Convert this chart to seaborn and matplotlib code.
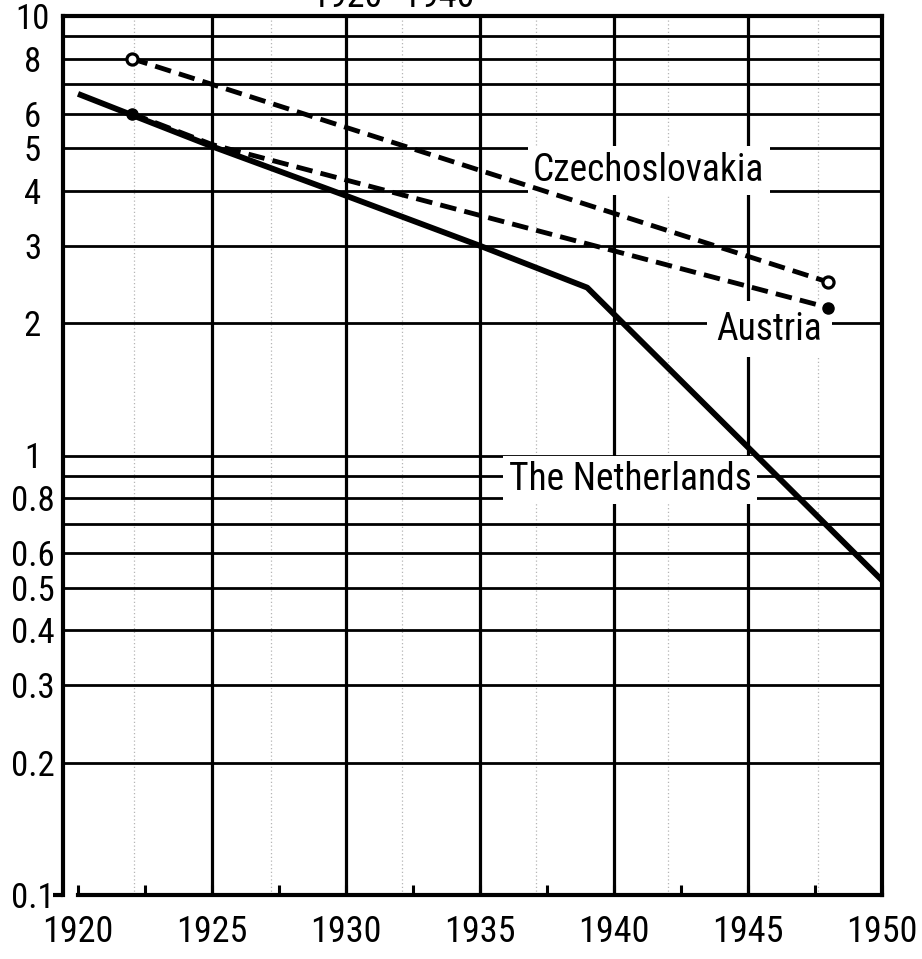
import matplotlib
matplotlib.use("Agg")
import matplotlib.pyplot as plt
from matplotlib.ticker import NullLocator
from matplotlib import font_manager
import numpy as np
import pandas as pd
import seaborn as sns

# ---------------- data ----------------
nl_years = [1920, 1925, 1930, 1935, 1939, 1950]
nl_values = [6.65, 5.05, 3.9, 3.0, 2.41, 0.52]

cz_years = [1922, 1948]
cz_values = [8.0, 2.48]

at_years = [1922, 1925, 1948]
at_values = [6.0, 5.1, 2.17]

x_ticks = [1920, 1925, 1930, 1935, 1940, 1945, 1950]
x_labels = ["1920", "1925", "1930", "1935", "1940", "1945", "1950"]
x_minor = [1922.5, 1927.5, 1932.5, 1937.5, 1942.5, 1947.5]
x_grid = [1925, 1930, 1935, 1940, 1945]
paper_grid = [1922.1, 1927.2, 1932.1, 1937.1, 1942.0, 1947.6]

y_ticks = [0.1, 0.2, 0.3, 0.4, 0.5, 0.6, 0.8, 1, 2, 3, 4, 5, 6, 8, 10]
y_labels = ["0.1", "0.2", "0.3", "0.4", "0.5", "0.6", "0.8", "1",
            "2", "3", "4", "5", "6", "8", "10"]
y_grid = [0.2, 0.3, 0.4, 0.5, 0.6, 0.7, 0.8, 0.9, 1, 2, 3, 4, 5, 6, 7, 8, 9]

title_text = "1920–1940"
label_cz = "Czechoslovakia"
label_at = "Austria"
label_nl = "The Netherlands"

# ---------------- style ----------------
sns.set_theme(style="white")
installed = {f.name for f in font_manager.fontManager.ttflist}
families = [f for f in ["Liberation Sans Narrow", "Roboto Condensed",
                        "DejaVu Sans Condensed", "Roboto"] if f in installed]
families.append("DejaVu Sans")
plt.rcParams["font.family"] = families
narrow = families[0] != "DejaVu Sans"
fs_x = 26 if narrow else 20
fs_y = 25 if narrow else 20
fs_lab = 27 if narrow else 21

W, H = 922, 959
fig = plt.figure(figsize=(W / 100, H / 100), dpi=100)
ax = fig.add_axes([63 / W, 1 - 895 / H, (882 - 63) / W, (895 - 16) / H])
ax.set_facecolor("white")

ax.set_yscale("log")
ax.set_ylim(0.1, 10)
ax.set_xlim(1919.44, 1950)

# grid lines
for v in y_grid:
    ax.axhline(v, color="black", lw=2.0, zorder=1)
for xv in x_grid:
    ax.axvline(xv, color="black", lw=2.3, zorder=1)
for xv in paper_grid:
    ax.axvline(xv, color="#b5b5b5", lw=0.9, ls=(0, (1, 2)), zorder=0.5)

# data lines
df_nl = pd.DataFrame({"year": nl_years, "value": nl_values})
df_cz = pd.DataFrame({"year": cz_years, "value": cz_values})
df_at = pd.DataFrame({"year": at_years, "value": at_values})

sns.lineplot(data=df_nl, x="year", y="value", ax=ax, color="black",
             lw=4.2, zorder=4, solid_capstyle="butt", legend=False)
sns.lineplot(data=df_cz, x="year", y="value", ax=ax, color="black",
             lw=3.5, linestyle=(0, (3.4, 1.7)), dash_capstyle="butt",
             marker="o", markersize=8, markerfacecolor="white",
             markeredgecolor="black", markeredgewidth=2.3, zorder=4,
             legend=False)
sns.lineplot(data=df_at, x="year", y="value", ax=ax, color="black",
             lw=3.5, linestyle=(0, (3.4, 1.7)), dash_capstyle="butt",
             zorder=4, legend=False)
ax.plot([at_years[0], at_years[-1]], [at_values[0], at_values[-1]],
        ls="none", marker="o", markersize=8, color="black", zorder=5)
ax.set_xlabel("")
ax.set_ylabel("")

# labels with white boxes
box = dict(boxstyle="square,pad=0.15", fc="white", ec="none")
ax.text(1941.3, 4.45, label_cz, ha="center", va="center", fontsize=fs_lab,
        color="black", bbox=box, zorder=2.5)
ax.text(1945.8, 1.94, label_at, ha="center", va="center", fontsize=fs_lab,
        color="black", bbox=dict(boxstyle="square,pad=0.25", fc="white", ec="none"),
        zorder=2.5)
ax.text(1940.6, 0.88, label_nl, ha="center", va="center", fontsize=fs_lab,
        color="black", bbox=box, zorder=2.5)

# spines
for s in ax.spines.values():
    s.set_visible(True)
    s.set_color("black")
    s.set_linewidth(3)
ax.spines["bottom"].set_bounds(1920, 1950)

# ticks
ax.set_xticks(x_ticks, x_labels)
ax.set_xticks(x_minor, minor=True)
ax.tick_params(axis="x", which="both", direction="in", length=7.5, width=2.2,
               colors="black", pad=14, labelsize=fs_x, bottom=True)
ax.set_yticks(y_ticks, y_labels)
ax.yaxis.set_minor_locator(NullLocator())
ax.tick_params(axis="y", which="major", direction="out", length=0, width=3,
               colors="black", pad=22, labelsize=fs_y, left=True)
for lbl in ax.get_yticklabels():
    lbl.set_horizontalalignment("center")
ax.grid(False)

# small foot at 0.1
t0 = ax.yaxis.get_major_ticks()[0]
t0.tick1line.set_markersize(7)
t0.tick1line.set_markeredgewidth(3)

# clipped title at top
fig.text(393 / W, 1 - 7 / H, title_text, ha="center", va="baseline",
         fontsize=fs_x, color="black")

fig.savefig("out.png", dpi=100, facecolor="white")
